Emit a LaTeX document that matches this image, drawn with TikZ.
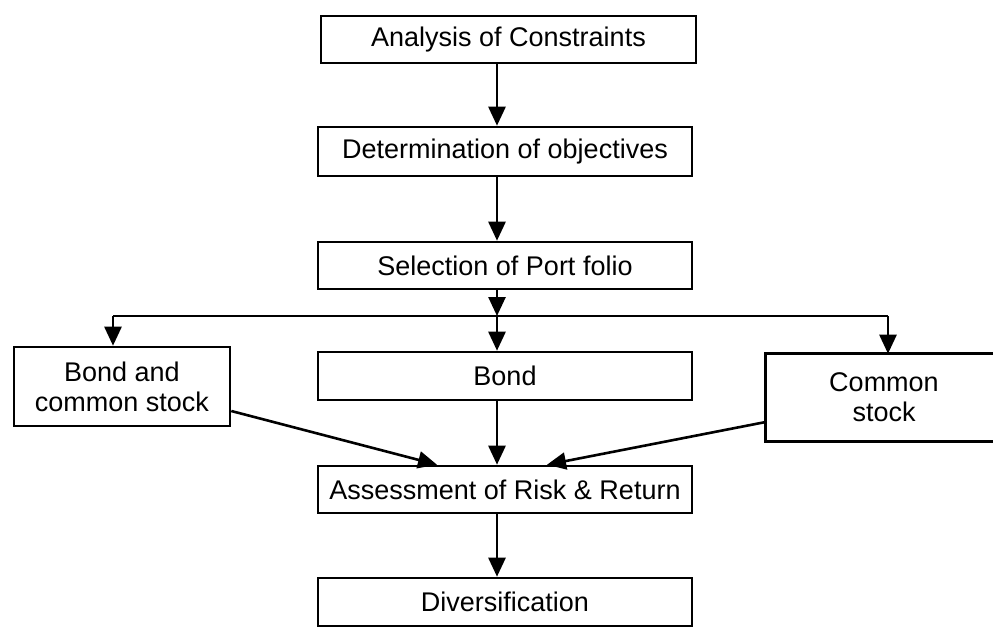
\documentclass[tikz,border=0pt]{standalone}
\usepackage{fontspec}
\setmainfont{Liberation Sans}
\usetikzlibrary{arrows.meta}
\begin{document}
\begin{tikzpicture}[x=1pt,y=-1pt,
  box/.style={draw, line width=2.6pt, rectangle, inner sep=0pt, align=center,
    font=\fontsize{27}{30}\selectfont},
  arr/.style={line width=2.6pt, -{Triangle[length=19pt,width=17pt]}},
  ln/.style={line width=2.6pt}]
\useasboundingbox (0,0) rectangle (993,633);
\node[box, minimum width=375pt, minimum height=47pt] (ana) at (508.5,39.5) {Analysis of Constraints};
\node[box, minimum width=374pt, minimum height=49pt] (det) at (505,151.5) {Determination of objectives};
\node[box, minimum width=374pt, minimum height=47pt] (sel) at (505,265.5) {Selection of Port folio};
\node[box, minimum width=374pt, minimum height=48pt] (bond) at (505,376) {Bond};
\node[box, minimum width=216pt, minimum height=79pt] (bcs) at (122,386.5) {Bond and\\common stock};
\node[box, draw=none, minimum width=234pt, minimum height=85pt] (cs) at (884,397.5) {Common\\stock};
\draw[ln, line join=miter] ([xshift=260pt]cs.north west) -- (cs.north west) -- (cs.south west) -- ++(260,0);
\node[box, minimum width=374pt, minimum height=47pt] (ass) at (505,489.5) {Assessment of Risk \& Return};
\node[box, minimum width=374pt, minimum height=48pt] (div) at (505,602) {Diversification};
\coordinate (ax) at (497,0);
\coordinate (hl) at (113,316);
\coordinate (hr) at (888,316);
\coordinate (hm) at (497,316);
\coordinate (tl) at (437,0);
\coordinate (tr) at (547,0);
\draw[arr] (ana.south -| ax) -- (det.north -| ax);
\draw[arr] (det.south -| ax) -- (sel.north -| ax);
\draw[arr] (sel.south -| ax) -- (hm);
\draw[ln] (hl) -- (hr);
\draw[arr] (hl) -- (bcs.north -| hl);
\draw[arr] (hr) -- (cs.north -| hr);
\draw[arr] (hm) -- (bond.north -| hm);
\draw[arr] (bond.south -| ax) -- (ass.north -| ax);
\draw[arr] ([yshift=-24.5pt]bcs.east) -- (ass.north -| tl);
\draw[arr] ([yshift=-24.5pt]cs.west) -- (ass.north -| tr);
\draw[arr] (ass.south -| ax) -- (div.north -| ax);
\end{tikzpicture}
\end{document}
